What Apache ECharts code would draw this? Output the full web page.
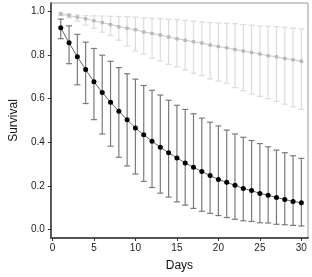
<!DOCTYPE html>
<html>
<head>
<meta charset="utf-8">
<script src="https://cdn.jsdelivr.net/npm/echarts@6/dist/echarts.min.js"></script>
<style>html,body{margin:0;padding:0;background:#fff;}#c{width:312px;height:277px;}</style>
</head>
<body>
<div id="c"></div>
<script>
const days = [1,2,3,4,5,6,7,8,9,10,11,12,13,14,15,16,17,18,19,20,21,22,23,24,25,26,27,28,29,30];
const xTicks = [0,5,10,15,20,25,30];
const yTicks = [0,0.2,0.4,0.6,0.8,1.0];

const blackMean  = [0.926,0.857,0.793,0.734,0.678,0.629,0.584,0.543,0.503,0.466,0.434,0.405,0.377,0.352,0.328,0.305,0.285,0.266,0.247,0.229,0.216,0.202,0.188,0.178,0.165,0.157,0.146,0.137,0.128,0.122];
const blackUpper = [0.966,0.935,0.896,0.860,0.831,0.800,0.772,0.743,0.715,0.690,0.661,0.639,0.617,0.593,0.570,0.551,0.531,0.511,0.492,0.475,0.456,0.438,0.423,0.408,0.394,0.379,0.364,0.352,0.338,0.326];
const blackLower = [0.876,0.761,0.664,0.578,0.504,0.438,0.382,0.331,0.291,0.254,0.220,0.192,0.166,0.148,0.126,0.111,0.096,0.083,0.073,0.063,0.054,0.046,0.039,0.036,0.030,0.029,0.023,0.021,0.018,0.015];

const grayMean  = [0.990,0.982,0.975,0.968,0.958,0.950,0.941,0.931,0.924,0.917,0.907,0.900,0.893,0.884,0.876,0.869,0.862,0.856,0.847,0.840,0.834,0.826,0.819,0.813,0.806,0.798,0.793,0.785,0.779,0.772];
const grayUpper = [0.997,0.990,0.985,0.982,0.981,0.980,0.979,0.978,0.977,0.975,0.972,0.970,0.968,0.965,0.963,0.960,0.957,0.953,0.950,0.948,0.947,0.945,0.941,0.938,0.934,0.933,0.931,0.928,0.924,0.921];
const grayLower = [0.982,0.972,0.957,0.938,0.924,0.906,0.890,0.869,0.842,0.820,0.806,0.787,0.774,0.758,0.747,0.732,0.717,0.707,0.691,0.681,0.671,0.651,0.637,0.622,0.611,0.600,0.588,0.575,0.563,0.551];

function errRender(color, width) {
  return function (params, api) {
    const x = api.value(0);
    const lo = api.coord([x, api.value(1)]);
    const hi = api.coord([x, api.value(2)]);
    const hw = 3;
    const st = { stroke: color, lineWidth: width };
    return {
      type: 'group',
      children: [
        { type: 'line', shape: { x1: lo[0], y1: lo[1], x2: hi[0], y2: hi[1] }, style: st },
        { type: 'line', shape: { x1: hi[0] - hw, y1: hi[1], x2: hi[0] + hw, y2: hi[1] }, style: st },
        { type: 'line', shape: { x1: lo[0] - hw, y1: lo[1], x2: lo[0] + hw, y2: lo[1] }, style: st }
      ]
    };
  };
}

const chart = echarts.init(document.getElementById('c'), null, { renderer: 'canvas' });
const font = 'Liberation Sans, Arial, sans-serif';
chart.setOption({
  animation: false,
  grid: { left: 36, right: 4, top: 3, bottom: 30, show: true, borderColor: '#9a9a9a', borderWidth: 1 },
  xAxis: {
    type: 'value', min: -0.2, max: 30.8,
    name: 'Days', nameLocation: 'middle', nameGap: 22,
    nameTextStyle: { fontFamily: font, fontSize: 12, color: '#111' },
    axisLine: { show: true, onZero: false, lineStyle: { color: '#555', width: 2 } },
    axisTick: { show: true, inside: false, length: 3, customValues: xTicks, lineStyle: { color: '#333' } },
    axisLabel: { customValues: xTicks, fontFamily: font, fontSize: 10, color: '#222', margin: 5 },
    splitLine: { show: false }
  },
  yAxis: {
    type: 'value', min: -0.04, max: 1.04,
    name: 'Survival', nameLocation: 'middle', nameGap: 29, nameRotate: 90,
    nameTextStyle: { fontFamily: font, fontSize: 12, color: '#111' },
    axisLine: { show: true, onZero: false, lineStyle: { color: '#333', width: 1.5 } },
    axisTick: { show: true, inside: false, length: 3, customValues: yTicks, lineStyle: { color: '#333' } },
    axisLabel: { customValues: yTicks, fontFamily: font, fontSize: 10, color: '#222', margin: 6,
      formatter: v => v.toFixed(1) },
    splitLine: { show: false }
  },
  series: [
    { type: 'custom', renderItem: errRender('#dcdcdc', 1.2), z: 1,
      data: days.map((d, i) => [d, grayLower[i], grayUpper[i]]) },
    { type: 'line', z: 2, data: days.map((d, i) => [d, grayMean[i]]),
      symbol: 'circle', symbolSize: 4, showSymbol: true,
      lineStyle: { color: '#c8c8c8', width: 1 }, itemStyle: { color: '#bababa' } },
    { type: 'custom', renderItem: errRender('#7a7a7a', 1.2), z: 3,
      data: days.map((d, i) => [d, blackLower[i], blackUpper[i]]) },
    { type: 'line', z: 4, data: days.map((d, i) => [d, blackMean[i]]),
      symbol: 'circle', symbolSize: 5, showSymbol: true,
      lineStyle: { color: '#666', width: 1 }, itemStyle: { color: '#000' } }
  ]
});
</script>
</body>
</html>
